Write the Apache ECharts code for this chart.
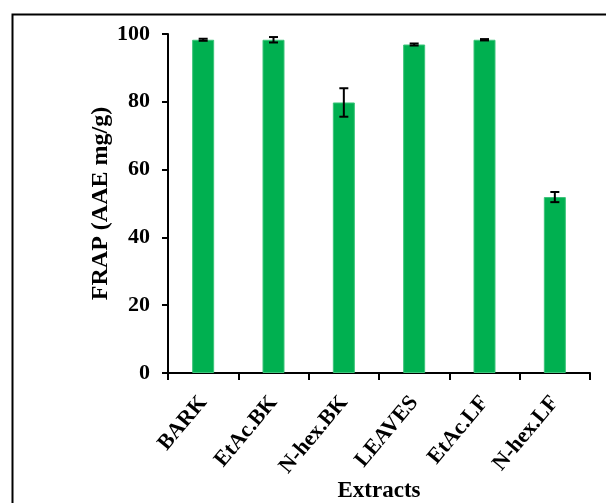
<!DOCTYPE html>
<html>
<head>
<meta charset="utf-8">
<script src="https://cdn.jsdelivr.net/npm/echarts@6/dist/echarts.min.js"></script>
<style>html,body{margin:0;padding:0;background:#fff;}#c{width:606px;height:503px;}</style>
</head>
<body>
<div id="c"></div>
<script>
const categories = ['BARK', 'EtAc.BK', 'N-hex.BK', 'LEAVES', 'EtAc.LF', 'N-hex.LF'];
const frapValues = [98.3, 98.3, 79.8, 96.9, 98.3, 51.9];
const frapErrors = [0.3, 0.8, 4.2, 0.3, 0.2, 1.5];
const yTicks = [0, 20, 40, 60, 80, 100];

const errData = categories.map((c, i) => [i, frapValues[i] - frapErrors[i], frapValues[i] + frapErrors[i]]);
const font = '"Liberation Serif", "Times New Roman", serif';

const chart = echarts.init(document.getElementById('c'), null, {renderer: 'canvas'});
chart.setOption({
  animation: false,
  backgroundColor: '#fff',
  graphic: [{
    type: 'rect', left: 10, top: 12, silent: true,
    shape: {x: 0, y: 0, width: 620, height: 520},
    style: {fill: 'none', stroke: '#000', lineWidth: 2}
  }],
  grid: {left: 168, right: 16, top: 34, bottom: 130, containLabel: false, outerBoundsMode: 'none'},
  xAxis: {
    type: 'category',
    data: categories,
    name: 'Extracts',
    nameLocation: 'middle',
    nameGap: 107,
    nameMoveOverlap: false,
    nameTextStyle: {fontFamily: font, fontWeight: 'bold', fontSize: 23, color: '#000'},
    axisLine: {lineStyle: {color: '#000', width: 2}},
    axisTick: {show: true, length: 7, lineStyle: {color: '#000', width: 2}},
    axisLabel: {rotate: 50, margin: 26, fontFamily: font, fontWeight: 'bold', fontSize: 22, color: '#000'}
  },
  yAxis: {
    type: 'value',
    min: yTicks[0], max: yTicks[yTicks.length - 1], interval: 20,
    name: 'FRAP (AAE mg/g)',
    nameLocation: 'middle',
    nameGap: 55,
    nameMoveOverlap: false,
    nameTextStyle: {fontFamily: font, fontWeight: 'bold', fontSize: 24, color: '#000'},
    axisLine: {show: true, lineStyle: {color: '#000', width: 2}},
    axisTick: {show: true, length: 6, lineStyle: {color: '#000', width: 2}},
    splitLine: {show: false},
    axisLabel: {margin: 18, fontFamily: font, fontWeight: 'bold', fontSize: 22, color: '#000'}
  },
  series: [{
    type: 'bar',
    data: frapValues,
    barWidth: 22,
    itemStyle: {color: '#00B050', borderColor: '#3cc47a', borderWidth: 1}
  }, {
    type: 'custom',
    data: errData,
    z: 10,
    renderItem: function (params, api) {
      const x = api.coord([api.value(0), api.value(1)])[0];
      const lo = api.coord([api.value(0), api.value(1)])[1];
      const hi = api.coord([api.value(0), api.value(2)])[1];
      const hw = 4.5;
      const st = {stroke: '#000', lineWidth: 2};
      return {
        type: 'group',
        children: [
          {type: 'line', shape: {x1: x, y1: lo, x2: x, y2: hi}, style: st},
          {type: 'line', shape: {x1: x - hw, y1: lo, x2: x + hw, y2: lo}, style: st},
          {type: 'line', shape: {x1: x - hw, y1: hi, x2: x + hw, y2: hi}, style: st}
        ]
      };
    }
  }]
});
</script>
</body>
</html>
